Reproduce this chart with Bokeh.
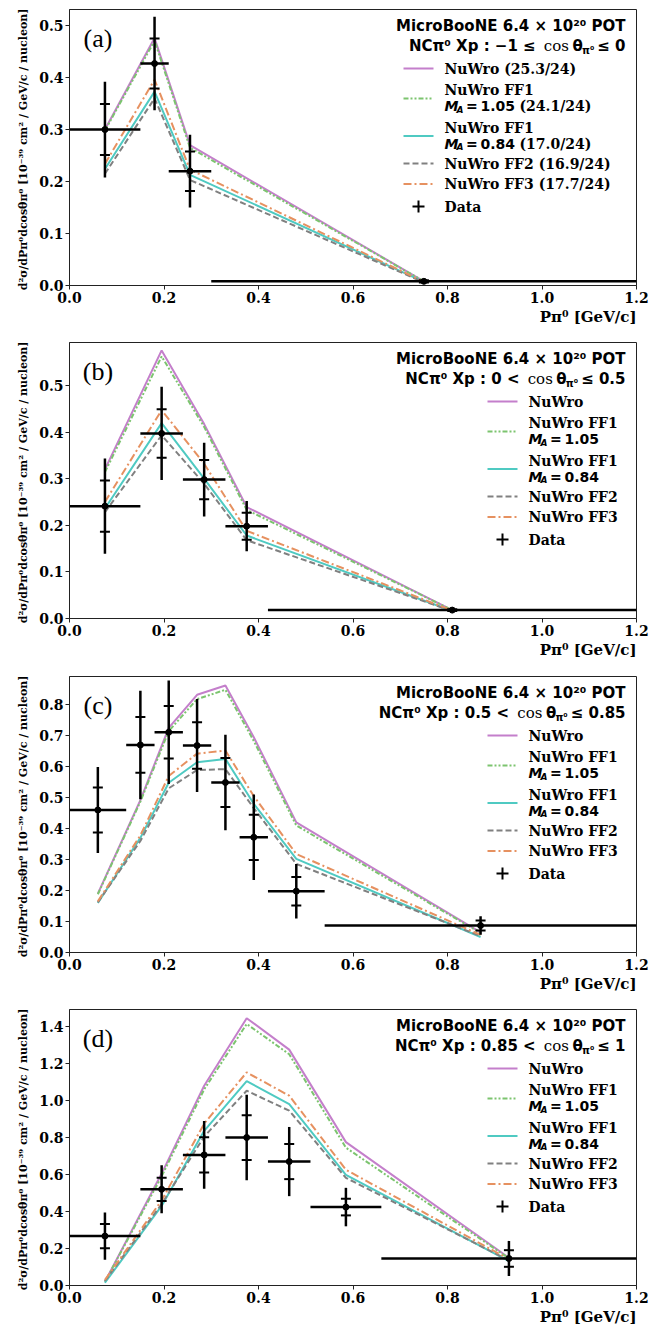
import numpy as np
from bokeh.plotting import figure
from bokeh.models import Label, Arrow, FixedTicker, PrintfTickFormatter, Range1d, Title
from bokeh.layouts import column
from bokeh.embed import file_html
from bokeh.resources import INLINE

# ---------------- data ----------------
x_tick_values = [0.0, 0.2, 0.4, 0.6, 0.8, 1.0, 1.2]
x_max = 1.2

model_labels = ["NuWro", "NuWro FF1", "NuWro FF1", "NuWro FF2", "NuWro FF3"]
model_ma = [None, "1.05", "0.84", None, None]

# (a) -1 <= cos <= 0
a_x = [0.075, 0.18, 0.255, 0.75]
a_bin_lo = [0.0, 0.15, 0.21, 0.30]
a_bin_hi = [0.15, 0.21, 0.30, 1.2]
a_data = [0.300, 0.427, 0.220, 0.008]
a_err_inner = [0.049, 0.048, 0.038, 0.002]
a_err_total = [0.092, 0.090, 0.070, 0.003]
a_nuwro = [0.300, 0.476, 0.270, 0.008]
a_ff1_105 = [0.298, 0.471, 0.265, 0.008]
a_ff1_084 = [0.224, 0.373, 0.213, 0.007]
a_ff2 = [0.215, 0.360, 0.203, 0.006]
a_ff3 = [0.234, 0.396, 0.223, 0.007]
a_chi2 = ["(25.3/24)", "(24.1/24)", "(17.0/24)", "(16.9/24)", "(17.7/24)"]
a_yticks = [0.0, 0.1, 0.2, 0.3, 0.4, 0.5]
a_ymax = 0.531

# (b) 0 < cos <= 0.5
b_x = [0.075, 0.195, 0.285, 0.375, 0.81]
b_bin_lo = [0.0, 0.15, 0.24, 0.33, 0.42]
b_bin_hi = [0.15, 0.24, 0.33, 0.42, 1.2]
b_data = [0.241, 0.397, 0.298, 0.198, 0.018]
b_err_inner = [0.055, 0.052, 0.042, 0.029, 0.002]
b_err_total = [0.102, 0.100, 0.079, 0.054, 0.003]
b_nuwro = [0.320, 0.575, 0.417, 0.239, 0.018]
b_ff1_105 = [0.314, 0.562, 0.411, 0.233, 0.018]
b_ff1_084 = [0.236, 0.419, 0.300, 0.178, 0.016]
b_ff2 = [0.228, 0.393, 0.289, 0.168, 0.016]
b_ff3 = [0.250, 0.447, 0.332, 0.188, 0.017]
b_yticks = [0.0, 0.1, 0.2, 0.3, 0.4, 0.5]
b_ymax = 0.592

# (c) 0.5 < cos <= 0.85
c_x = [0.06, 0.15, 0.21, 0.27, 0.33, 0.39, 0.48, 0.87]
c_bin_lo = [0.0, 0.12, 0.18, 0.24, 0.30, 0.36, 0.42, 0.54]
c_bin_hi = [0.12, 0.18, 0.24, 0.30, 0.36, 0.42, 0.54, 1.2]
c_data = [0.460, 0.670, 0.711, 0.668, 0.549, 0.372, 0.198, 0.087]
c_err_inner = [0.073, 0.090, 0.085, 0.075, 0.079, 0.073, 0.046, 0.016]
c_err_total = [0.139, 0.175, 0.167, 0.150, 0.154, 0.138, 0.088, 0.030]
c_nuwro = [0.190, 0.492, 0.725, 0.832, 0.862, 0.695, 0.420, 0.065]
c_ff1_105 = [0.188, 0.487, 0.715, 0.818, 0.848, 0.683, 0.410, 0.063]
c_ff1_084 = [0.160, 0.370, 0.548, 0.614, 0.625, 0.480, 0.302, 0.050]
c_ff2 = [0.162, 0.360, 0.530, 0.589, 0.592, 0.466, 0.286, 0.053]
c_ff3 = [0.165, 0.378, 0.570, 0.642, 0.652, 0.505, 0.318, 0.057]
c_yticks = [0.0, 0.1, 0.2, 0.3, 0.4, 0.5, 0.6, 0.7, 0.8]
c_ymax = 0.891

# (d) 0.85 < cos <= 1
d_x = [0.075, 0.195, 0.285, 0.375, 0.465, 0.585, 0.93]
d_bin_lo = [0.0, 0.15, 0.24, 0.33, 0.42, 0.51, 0.66]
d_bin_hi = [0.15, 0.24, 0.33, 0.42, 0.51, 0.66, 1.2]
d_data = [0.267, 0.520, 0.706, 0.800, 0.670, 0.424, 0.146]
d_err_inner = [0.065, 0.063, 0.095, 0.121, 0.095, 0.045, 0.045]
d_err_total = [0.128, 0.130, 0.183, 0.231, 0.187, 0.104, 0.095]
d_nuwro = [0.020, 0.605, 1.080, 1.445, 1.275, 0.775, 0.150]
d_ff1_105 = [0.020, 0.590, 1.060, 1.414, 1.250, 0.745, 0.147]
d_ff1_084 = [0.015, 0.430, 0.836, 1.105, 0.980, 0.598, 0.132]
d_ff2 = [0.025, 0.440, 0.805, 1.053, 0.945, 0.582, 0.136]
d_ff3 = [0.030, 0.460, 0.875, 1.152, 1.026, 0.626, 0.142]
d_yticks = [0.0, 0.2, 0.4, 0.6, 0.8, 1.0, 1.2, 1.4]
d_ymax = 1.492

# ---------------- style ----------------
STYLES = [
    ("#c47fcb", "solid", 2.0),
    ("#7cc46f", "5 2 2 2 2 2", 2.0),
    ("#4fcac2", "solid", 2.0),
    ("#808080", "6 3", 2.0),
    ("#e69160", "8 3 2 3", 2.0),
]
FW, FH = 567, 276
SANS = "DejaVu Sans"
SERIF = "DejaVu Serif"

W_SANS_BOLD = {"≤": 0.838, "<": 0.838, " ": 0.348, ".": 0.380, "−": 0.838}


def tw(s, size):
    return sum(W_SANS_BOLD.get(ch, 0.696) for ch in s) * size


def lab(p, x, y, text, size, font=SERIF, style="bold", align="left", baseline="middle"):
    p.add_layout(Label(x=x, y=y, x_units="screen", y_units="screen", text=text,
                       text_font=font, text_font_size=f"{size}px", text_font_style=style,
                       text_align=align, text_baseline=baseline, text_color="black"))


def seg(p, x0, y0, x1, y1, color="black", width=2.0, dash="solid"):
    p.add_layout(Arrow(x_start=x0, y_start=y0, x_end=x1, y_end=y1, start_units="screen",
                       end_units="screen", start=None, end=None, line_color=color,
                       line_width=width, line_dash=dash))


def make_panel(tag, x, lo, hi, yv, e_in, e_tot, models, chi2, yticks, ymax,
               low, rel, up, border_top, border_bottom, legend_x):
    p = figure(frame_width=FW, frame_height=FH, x_range=Range1d(0, x_max), y_range=Range1d(0, ymax),
               output_backend="svg", toolbar_location=None, min_border_left=69, min_border_right=16,
               min_border_top=border_top, min_border_bottom=border_bottom)
    p.xgrid.visible = False
    p.ygrid.visible = False
    p.outline_line_color = "#222222"
    p.outline_line_width = 1
    p.xaxis.ticker = FixedTicker(ticks=x_tick_values, minor_ticks=[])
    p.yaxis.ticker = FixedTicker(ticks=yticks, minor_ticks=[])
    for ax in (p.xaxis[0], p.yaxis[0]):
        ax.formatter = PrintfTickFormatter(format="%.1f")
        ax.major_label_text_font = SERIF
        ax.major_label_text_font_style = "bold"
        ax.major_label_text_font_size = "14px"
        ax.major_label_text_color = "black"
        ax.major_tick_out = 4
        ax.major_tick_in = 0
        ax.minor_tick_out = 0
        ax.minor_tick_in = 0
        ax.major_label_standoff = 2
        ax.axis_line_color = "#222222"
        ax.major_tick_line_color = "#222222"

    # axis labels
    p.yaxis.axis_label = "d²σ/dPπ⁰dcosθπ⁰  [10⁻³⁹ cm² / GeV/c / nucleon]"
    p.yaxis.axis_label_text_font = SERIF
    p.yaxis.axis_label_text_font_style = "bold"
    p.yaxis.axis_label_text_font_size = "11px"
    p.yaxis.axis_label_text_color = "black"
    p.yaxis.axis_label_standoff = 6
    p.add_layout(Title(text="Pπ⁰ [GeV/c]", align="right", text_font=SERIF, text_color="black",
                       text_font_style="bold", text_font_size="15px", standoff=0), "below")

    # model curves
    for vals, (color, dash, lw) in zip(models, STYLES):
        p.line(x, vals, line_color=color, line_width=lw, line_dash=dash)

    # data with error bars
    yv = np.array(yv)
    e_in = np.array(e_in)
    e_tot = np.array(e_tot)
    p.segment(x0=x, y0=yv - e_tot, x1=x, y1=yv + e_tot, line_color="black", line_width=2.5)
    p.segment(x0=lo, y0=yv, x1=hi, y1=yv, line_color="black", line_width=2.5)
    p.scatter(x=list(x) + list(x), y=list(yv - e_in) + list(yv + e_in), marker="dash", size=10,
              line_color="black", line_width=2)
    p.scatter(x=x, y=yv, marker="circle", size=6, color="black")

    # panel tag
    lab(p, 28.5, FH - 29, tag, 26, font="Liberation Serif", style="normal", align="center")

    # title block
    X = 556
    lab(p, X, FH - 16.5, "MicroBooNE 6.4 × 10²⁰ POT", 15, font=SANS, align="right")
    y2 = FH - 36.5
    R = "≤ " + up
    wR = tw(R, 15)
    lab(p, X, y2, R, 15, font=SANS, align="right")
    xs = X - wR - 3
    lab(p, xs, y2 - 4, "π⁰", 10, font=SANS, align="right")
    xt = xs - 11.5
    lab(p, xt, y2, "θ", 15, font=SANS, align="right")
    xu = xt - 10.3 - 3.5
    lab(p, xu, y2, "cos", 15, font=SERIF, style="normal", align="right")
    xv = xu - 25.1 - 3
    lab(p, xv, y2, "NCπ⁰ Xp :  " + low + " " + rel, 15, font=SANS, align="right")

    # legend
    sx = legend_x
    tx = sx + 41
    rows = [FH - 59, FH - 89, FH - 126.5, FH - 154, FH - 174.5]
    for i, (color, dash, lw) in enumerate(STYLES):
        yr = rows[i]
        seg(p, sx, yr, sx + 30, yr, color=color, width=lw, dash=dash)
        if model_ma[i] is None:
            txt = model_labels[i] + ((" " + chi2[i]) if chi2 else "")
            lab(p, tx, yr, txt, 14)
        else:
            lab(p, tx, yr + 8.5, model_labels[i], 14)
            yl = yr - 7.5
            lab(p, tx, yl, "M", 14, font=SANS, style="bold italic")
            lab(p, tx + 12, yl - 3.5, "A", 9, font=SANS, style="bold italic")
            lab(p, tx + 21.5, yl, "=", 14, font=SANS)
            lab(p, tx + 36, yl, model_ma[i], 14, font=SANS)
            if chi2:
                lab(p, tx + 75, yl, chi2[i], 14)
    yd = FH - 197
    seg(p, sx + 9, yd, sx + 21, yd, width=2)
    seg(p, sx + 15, yd - 6, sx + 15, yd + 6, width=2)
    lab(p, tx, yd, "Data", 14)
    return p


pa = make_panel("(a)", a_x, a_bin_lo, a_bin_hi, a_data, a_err_inner, a_err_total,
                [a_nuwro, a_ff1_105, a_ff1_084, a_ff2, a_ff3], a_chi2, a_yticks, a_ymax,
                "−1", "≤", "0", 9, 56, 334)
pb = make_panel("(b)", b_x, b_bin_lo, b_bin_hi, b_data, b_err_inner, b_err_total,
                [b_nuwro, b_ff1_105, b_ff1_084, b_ff2, b_ff3], None, b_yticks, b_ymax,
                "0", "<", "0.5", 1, 57, 418)
pc = make_panel("(c)", c_x, c_bin_lo, c_bin_hi, c_data, c_err_inner, c_err_total,
                [c_nuwro, c_ff1_105, c_ff1_084, c_ff2, c_ff3], None, c_yticks, c_ymax,
                "0.5", "<", "0.85", 1, 56, 418)
pd_ = make_panel("(d)", d_x, d_bin_lo, d_bin_hi, d_data, d_err_inner, d_err_total,
                 [d_nuwro, d_ff1_105, d_ff1_084, d_ff2, d_ff3], None, d_yticks, d_ymax,
                 "0.85", "<", "1", 1, 41, 418)

layout = column(pa, pb, pc, pd_)
open("out.html", "w").write(file_html(layout, INLINE))
